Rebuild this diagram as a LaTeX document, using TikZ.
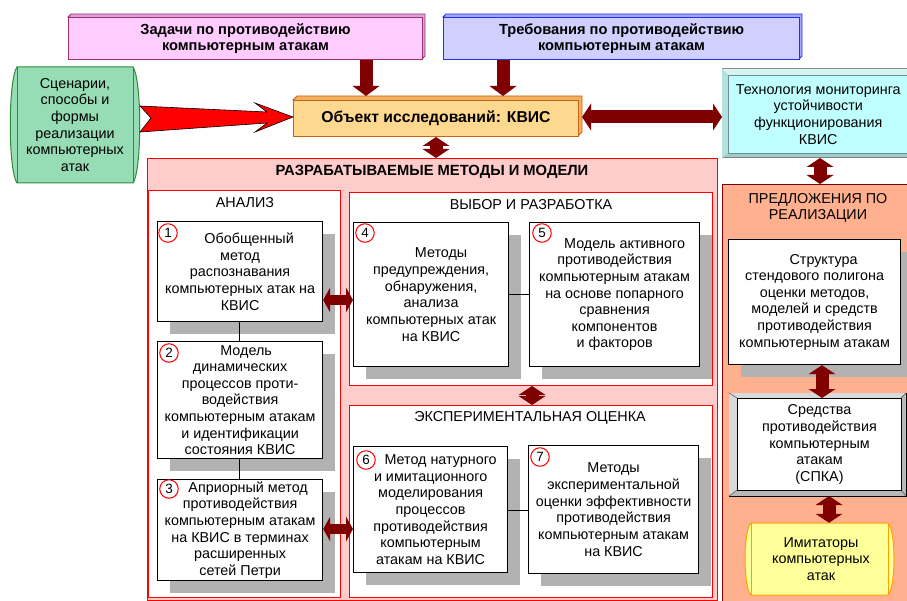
\documentclass[tikz,border=0pt]{standalone}
\usepackage{fontspec}
\setmainfont{Liberation Sans}
\usetikzlibrary{arrows.meta,shadows,calc}
\definecolor{arrowred}{HTML}{800000}
\definecolor{pinkfill}{HTML}{FFCCFF}
\definecolor{pinkdark}{HTML}{E0A0E0}
\definecolor{pinkline}{HTML}{A0306A}
\definecolor{bluefill}{HTML}{D0D0FF}
\definecolor{bluedark}{HTML}{A8A8F0}
\definecolor{blueline}{HTML}{2030FF}
\definecolor{orfill}{HTML}{FFD890}
\definecolor{ordark}{HTML}{F0B060}
\definecolor{orline}{HTML}{C86418}
\definecolor{grfill}{HTML}{96DCB4}
\definecolor{grline}{HTML}{2E8B3A}
\definecolor{cyfill}{HTML}{C0FFFF}
\definecolor{cyframe}{HTML}{A0CCCC}
\definecolor{cytop}{HTML}{D6F4F4}
\definecolor{cyleft}{HTML}{B4E0E0}
\definecolor{bigpink}{HTML}{FFCCCC}
\definecolor{salmon}{HTML}{FFB08F}
\definecolor{yelfill}{HTML}{FFFF99}
\definecolor{yelline}{HTML}{FFA000}
\definecolor{shadowgray}{HTML}{B2B2B2}
\newcommand\mytxt{\fontsize{14.4}{16.7}\selectfont}
\newcommand\mybold{\fontsize{14.7}{16.6}\selectfont\bfseries}
\tikzset{
  box/.style={draw=black, line width=1.2bp, fill=white, inner sep=0pt, align=center, font=\mytxt, anchor=north west,
    drop shadow={shadow xshift=12.5bp, shadow yshift=-12.5bp, fill=shadowgray, opacity=1}},
  section/.style={draw=red, line width=1bp, fill=white, inner sep=0pt, anchor=north west},
  title/.style={font=\mytxt, inner sep=0pt, align=center},
  numc/.style={circle, draw=red, line width=1bp, minimum size=18.5bp, inner sep=0pt, font=\fontsize{13.5}{13.5}\selectfont},
  link/.style={draw=black, line width=0.8bp},
  fat/.style={draw=arrowred, line width=13bp, >={Triangle[width=27bp,length=10bp,line width=0pt]}, ->},
  dbl/.style={draw=arrowred, line width=13bp, >={Triangle[width=27bp,length=9bp,line width=0pt]}, <->},
  dbls/.style={draw=arrowred, line width=10bp, >={Triangle[width=25bp,length=7bp,line width=0pt]}, <->}
}
\begin{document}
\begin{tikzpicture}[x=1bp,y=-1bp]
\useasboundingbox (0,0) rectangle (907,601);

% top boxes with bevel
\fill[pinkdark, draw=pinkline, line width=0.8bp] (68,17) -- (71,14) -- (425,14) -- (425,56) -- (422,59) -- cycle;
\node[draw=pinkline, fill=pinkfill, line width=1bp, minimum width=354bp, minimum height=42bp, anchor=north west,
  inner sep=0pt, align=center, font=\mybold] (zad) at (68,17) {Задачи по противодействию\\компьютерным атакам};
\fill[bluedark, draw=blueline, line width=0.8bp] (443,17) -- (446,14) -- (802,14) -- (802,56) -- (799,59) -- cycle;
\node[draw=blueline, fill=bluefill, line width=1bp, minimum width=356bp, minimum height=42bp, anchor=north west,
  inner sep=0pt, align=center, font=\mybold] (treb) at (443,17) {Требования по противодействию\\компьютерным атакам};

% object box
\fill[ordark, draw=orline, line width=0.8bp] (293,100) -- (297,96) -- (582,96) -- (582,132) -- (578,136) -- cycle;
\node[draw=orline, fill=orfill, line width=1bp, minimum width=285bp, minimum height=36bp, anchor=north west,
  inner sep=0pt, font=\fontsize{15.8}{18}\selectfont\bfseries] (obj) at (293,100) {Объект исследований: КВИС};

% green scenario shape
\draw[draw=grline, fill=grfill, line width=1bp] (17,67) -- (133,67) .. controls (142,80) and (142,170) .. (133,183)
  -- (17,183) .. controls (8,170) and (8,80) .. (17,67) -- cycle;
\draw[grline, line width=0.8bp] (17,67) -- (17,183) (133,67) -- (133,183);
\node[title, minimum width=116bp, minimum height=116bp] (sc) at (75,125)
  {Сценарии,\\способы и\\формы\\реализации\\компьютерных\\атак};

% red arrow
\draw[fill=red, draw=black, line width=0.6bp] (140,106) -- (267,112) -- (255,103) -- (293,117) -- (255,132)
  -- (267,123) -- (140,132) -- (151,118) -- cycle;

% technology box (bevelled frame)
\fill[draw=gray, fill=cyframe, line width=1bp] (722,69) rectangle (912,158);
\fill[cytop] (722,69) -- (912,69) -- (907,75) -- (728,75) -- cycle;
\fill[cyleft] (722,69) -- (728,75) -- (728,153) -- (722,158) -- cycle;
\node[draw=cyframe!70!black, fill=cyfill, line width=0.5bp, minimum width=180bp, minimum height=78bp, anchor=north west,
  inner sep=0pt, align=center, font=\mytxt] (tech) at (728,75)
  {Технология мониторинга\\устойчивости\\функционирования\\КВИС};

% big pink region
\node[draw=red, fill=bigpink, line width=1bp, minimum width=570bp, minimum height=442bp, anchor=north west, inner sep=0pt] (big) at (147,158) {};
\node[font=\fontsize{14.8}{16}\selectfont\bfseries, inner sep=0pt] (bigt) at (432,172) {РАЗРАБАТЫВАЕМЫЕ МЕТОДЫ И МОДЕЛИ};

% sections
\node[section, minimum width=192bp, minimum height=407bp] (an) at (148,190) {};
\node[title] (ant) at (245,203) {АНАЛИЗ};
\node[section, minimum width=363bp, minimum height=193bp] (vyb) at (349,192) {};
\node[title] (vybt) at (531,205) {ВЫБОР И РАЗРАБОТКА};
\node[section, minimum width=363bp, minimum height=192bp] (exp) at (349,405) {};
\node[title] (expt) at (530,418) {ЭКСПЕРИМЕНТАЛЬНАЯ ОЦЕНКА};

% proposals region
\node[draw=arrowred, fill=salmon, line width=1.2bp, minimum width=190bp, minimum height=420bp, anchor=north west, inner sep=0pt] (pr) at (722,184) {};
\node[title] (prt) at (818,208) {ПРЕДЛОЖЕНИЯ ПО\\РЕАЛИЗАЦИИ};

% method boxes
\node[box, minimum width=165bp, minimum height=100bp] (b1) at (157,221)
  {\hspace*{18bp}Обобщенный\\метод\\распознавания\\компьютерных атак на\\КВИС};
\node[box, minimum width=165bp, minimum height=117bp] (b2) at (157,341)
  {\hspace*{12bp}Модель\\динамических\\процессов проти-\\водействия\\компьютерным атакам\\и идентификации\\состояния КВИС};
\node[box, minimum width=165bp, minimum height=101bp] (b3) at (157,479)
  {\hspace*{16bp}Априорный метод\\противодействия\\компьютерным атакам\\на КВИС в терминах\\расширенных\\сетей Петри};
\node[box, minimum width=155bp, minimum height=144bp] (b4) at (353,222)
  {\hspace*{20bp}Методы\\предупреждения,\\обнаружения,\\анализа\\компьютерных атак\\на КВИС};
\node[box, minimum width=170bp, minimum height=144bp] (b5) at (529,222)
  {\hspace*{20bp}Модель активного\\противодействия\\компьютерным атакам\\на основе попарного\\сравнения\\компонентов\\и факторов};
\node[box, minimum width=154bp, minimum height=126bp] (b6) at (353,446)
  {\hspace*{20bp}Метод натурного\\и имитационного\\моделирования\\процессов\\противодействия\\компьютерным\\атакам на КВИС};
\node[box, minimum width=170bp, minimum height=128bp] (b7) at (528,445)
  {Методы\\экспериментальной\\оценки эффективности\\противодействия\\компьютерным атакам\\на КВИС};

% number circles
\node[numc] (n1) at (168,233) {1};
\node[numc] (n2) at (169,353) {2};
\node[numc] (n3) at (169,489) {3};
\node[numc] (n4) at (365,233) {4};
\node[numc] (n5) at (542,233) {5};
\node[numc] (n6) at (366,460) {6};
\node[numc] (n7) at (540,457) {7};

% thin links
\draw[link] ([xshift=-1bp]b1.south) -- ([xshift=-1bp]b2.north);
\draw[link] ([xshift=-1bp]b2.south) -- ([xshift=-1bp]b3.north);
\draw[link] (b4.east) -- (b4.east -| b5.west);
\draw[link] ([yshift=-1bp]b6.east) -- ([yshift=-1bp]b6.east -| b7.west);

% proposals column boxes
\node[box, minimum width=172bp, minimum height=125bp] (str) at (728,239)
  {\hspace*{18bp}Структура\\стендового полигона\\оценки методов,\\моделей и средств\\противодействия\\компьютерным атакам};

\fill[draw=black, fill=gray!55, line width=1bp] (729,393) rectangle (906,496);
\fill[gray!30] (729,393) -- (906,393) -- (901,398) -- (737,398) -- (737,490) -- (729,496) -- cycle;
\draw[gray!60!black, line width=0.5bp] (729,393) -- (737,398) (906,393) -- (901,398) (729,496) -- (737,490) (906,496) -- (901,490);
\node[draw=black, fill=white, line width=1bp, minimum width=164bp, minimum height=92bp, anchor=north west,
  inner sep=0pt, align=center, font=\mytxt] (spka) at (737,398)
  {Средства\\противодействия\\компьютерным\\атакам\\(СПКА)};

\draw[draw=yelline, fill=yelfill, line width=1bp] (751,523) -- (888,523) .. controls (896,530) and (896,588) .. (888,595)
  -- (751,595) .. controls (743,588) and (743,530) .. (751,523) -- cycle;
\draw[yelline, line width=0.8bp] (751,523) -- (751,595) (888,523) -- (888,595);
\node[title, minimum width=137bp, minimum height=72bp] (imit) at (821,559) {Имитаторы\\компьютерных\\атак};

% fat arrows
\draw[fat] ([xshift=-57bp]zad.south east) -- ([xshift=-57bp]zad.south east |- 0,96);
\draw[fat] ([xshift=60bp]treb.south west) -- ([xshift=60bp]treb.south west |- 0,96);
\draw[dbl] (582,117) -- (722,117);
\draw[dbl] (obj.south -| 436,0) -- (big.north -| 436,0);
\draw[dbl] (820,158) -- (pr.north -| 820,0);
\draw[dbl] (vyb.south -| 532,0) -- (exp.north -| 532,0);
\draw[dbl] (str.south -| 822,0) -- (spka.north -| 822,0);
\draw[dbl] (829,496) -- (imit.north -| 829,0);
\draw[dbls] (b1.east |- 0,300) -- (b4.west |- 0,300);
\draw[dbls] (b3.east |- 0,529) -- (b6.west |- 0,529);
\end{tikzpicture}
\end{document}
